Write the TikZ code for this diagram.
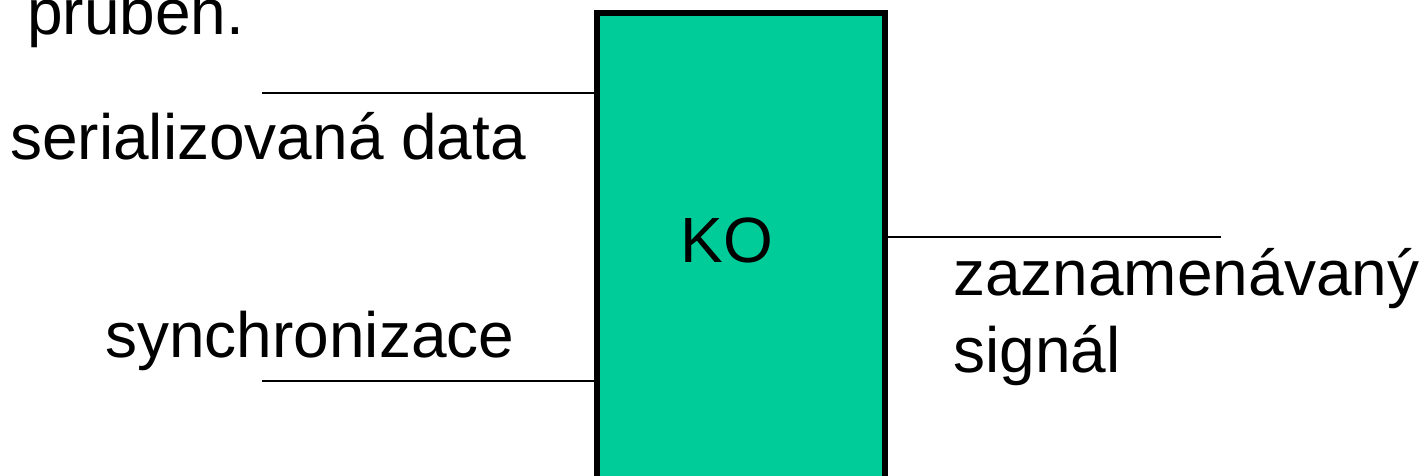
\documentclass[tikz,border=0pt]{standalone}
\usepackage{fontspec}
\setmainfont{Liberation Sans}
\usepackage{xcolor}
\usetikzlibrary{positioning}
\definecolor{kogreen}{RGB}{0,204,153}

\begin{document}
\begin{tikzpicture}[
    x=1pt, y=-1pt,
    txt/.style={inner sep=0pt, anchor=base west, font=\fontsize{64}{77}\selectfont},
    wire/.style={line width=2pt},
    block/.style={rectangle, draw, line width=6pt, fill=kogreen, minimum width=288pt, minimum height=470pt, inner sep=0pt}
]
\useasboundingbox (0,0) rectangle (1421,476);
\node[block] (ko) at (741,248) {};
\node[txt, anchor=base] (kolabel) at (727,262) {KO};

\node[txt] (title) at (27,35) {průběh.};
\node[txt] (sdata) at (10,160) {serializovaná data};
\node[txt] (sync) at (105,357) {synchronizace};
\node[txt] (signal) at (953,295) {zaznamenávaný};
\node[txt] (signal2) at (953,372) {signál};

\coordinate (dataIn) at (262,93);
\coordinate (syncIn) at (262,381);
\coordinate (sigOut) at (1221,237);

\draw[wire] (dataIn) -- (dataIn -| ko.west);
\draw[wire] (syncIn) -- (syncIn -| ko.west);
\draw[wire] (sigOut -| ko.east) -- (sigOut);
\end{tikzpicture}
\end{document}
